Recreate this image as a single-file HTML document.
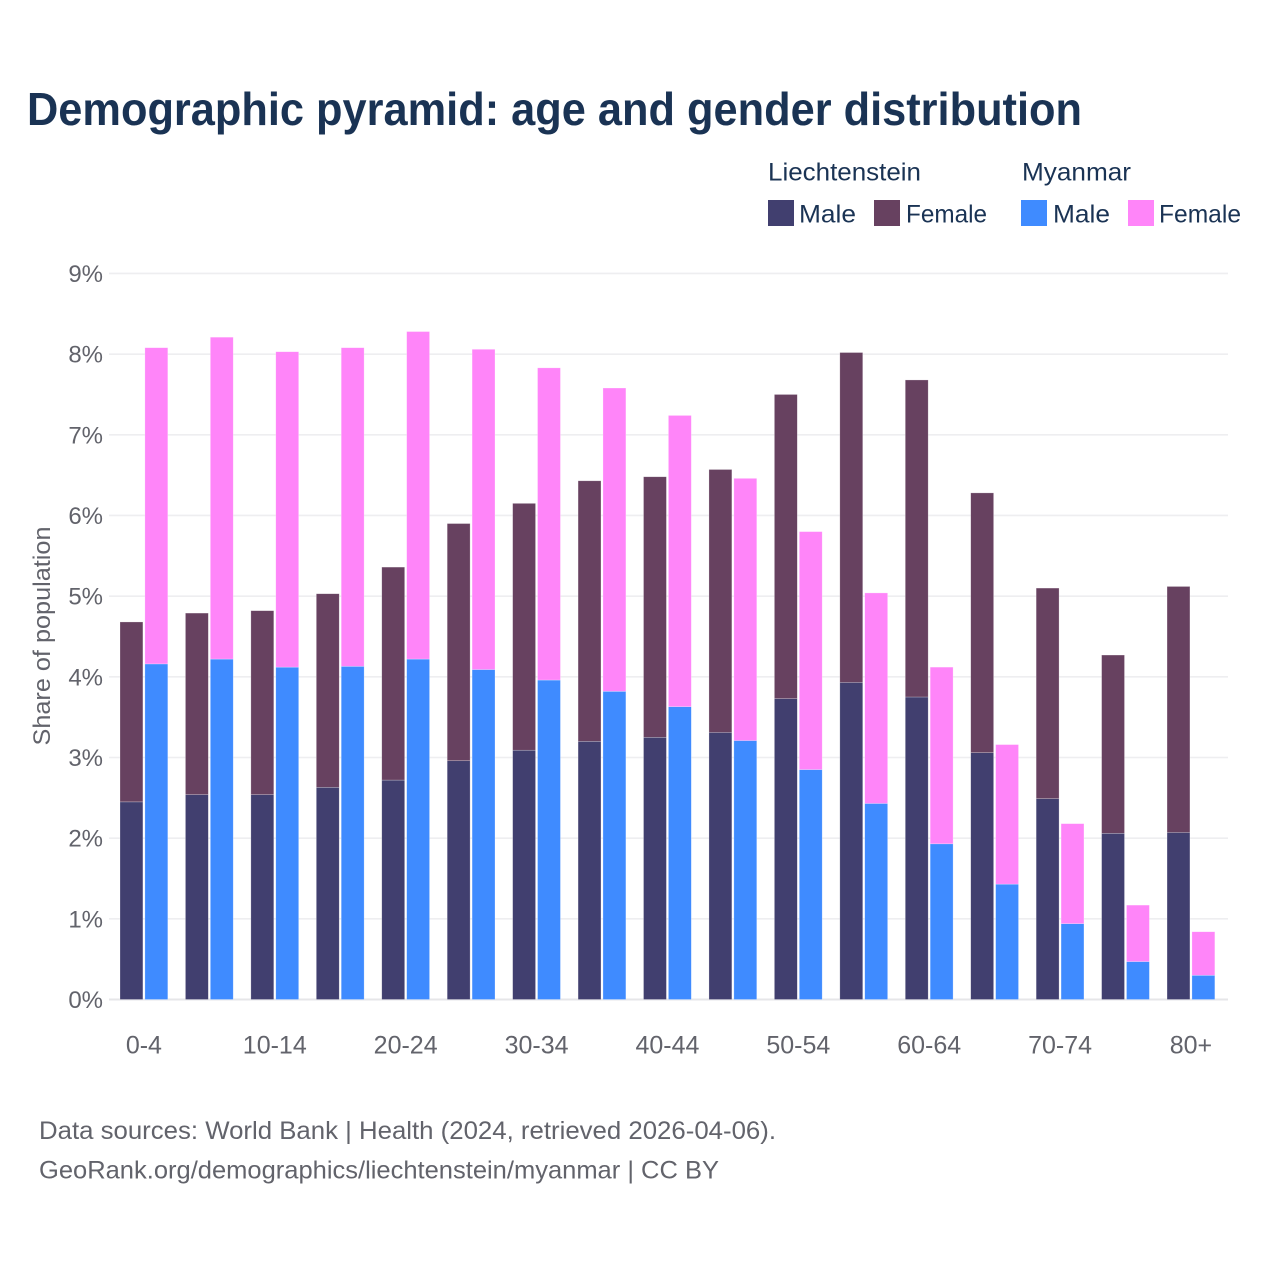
<!DOCTYPE html>
<html>
<head>
<meta charset="utf-8">
<title>Demographic pyramid</title>
<style>
html,body{margin:0;padding:0;background:#fff;}
svg{display:block;font-family:"Liberation Sans",sans-serif;}
</style>
</head>
<body>
<svg id="chart" width="1280" height="1280" viewBox="0 0 1280 1280">
  <rect x="0" y="0" width="1280" height="1280" fill="#ffffff"/>
  <text x="27" y="125" font-size="46" font-weight="700" fill="#1a3354" textLength="1055" lengthAdjust="spacingAndGlyphs">Demographic pyramid: age and gender distribution</text>

  <g>
    <text x="768" y="180.5" font-size="25" fill="#1a3354" textLength="153" lengthAdjust="spacingAndGlyphs">Liechtenstein</text>
    <text x="1022" y="180.5" font-size="25" fill="#1a3354" textLength="109" lengthAdjust="spacingAndGlyphs">Myanmar</text>
    <rect x="768" y="200" width="26" height="26" fill="#413f6f"/>
    <text x="799" y="222.5" font-size="25" fill="#1a3354" textLength="57" lengthAdjust="spacingAndGlyphs">Male</text>
    <rect x="874" y="200" width="26" height="26" fill="#674160"/>
    <text x="906" y="222.5" font-size="25" fill="#1a3354" textLength="81" lengthAdjust="spacingAndGlyphs">Female</text>
    <rect x="1021" y="200" width="26" height="26" fill="#3f8bff"/>
    <text x="1053" y="222.5" font-size="25" fill="#1a3354" textLength="57" lengthAdjust="spacingAndGlyphs">Male</text>
    <rect x="1128" y="200" width="26" height="26" fill="#ff85f9"/>
    <text x="1159" y="222.5" font-size="25" fill="#1a3354" textLength="82" lengthAdjust="spacingAndGlyphs">Female</text>
  </g>

  <g id="grid"></g>
  <g id="yticks"></g>
  <g id="bars"></g>
  <g id="xticks"></g>

  <text transform="translate(50,636) rotate(-90)" text-anchor="middle" font-size="24" fill="#62636b" textLength="219" lengthAdjust="spacingAndGlyphs">Share of population</text>

  <text x="39" y="1139" font-size="25" fill="#62636b" textLength="737" lengthAdjust="spacingAndGlyphs">Data sources: World Bank | Health (2024, retrieved 2026-04-06).</text>
  <text x="39" y="1178.5" font-size="25" fill="#62636b" textLength="680" lengthAdjust="spacingAndGlyphs">GeoRank.org/demographics/liechtenstein/myanmar | CC BY</text>
</svg>
<script>
var categories = ["0-4","5-9","10-14","15-19","20-24","25-29","30-34","35-39","40-44","45-49","50-54","55-59","60-64","65-69","70-74","75-79","80+"];
var xTickLabels = ["0-4","10-14","20-24","30-34","40-44","50-54","60-64","70-74","80+"];
var yTicks = [0,1,2,3,4,5,6,7,8,9];
var liechtensteinMale = [2.45,2.54,2.54,2.63,2.72,2.96,3.09,3.20,3.25,3.31,3.73,3.93,3.75,3.06,2.49,2.06,2.07];
var liechtensteinFemale = [2.23,2.25,2.28,2.40,2.64,2.94,3.06,3.23,3.23,3.26,3.77,4.09,3.93,3.22,2.61,2.21,3.05];
var myanmarMale = [4.16,4.22,4.12,4.13,4.22,4.09,3.96,3.82,3.63,3.21,2.85,2.43,1.93,1.43,0.94,0.47,0.30];
var myanmarFemale = [3.92,3.99,3.91,3.95,4.06,3.97,3.87,3.76,3.61,3.25,2.95,2.61,2.19,1.73,1.24,0.70,0.54];

var NS = "http://www.w3.org/2000/svg";
function yScale(v) { return 999.5 - v * 80.67; }
function xScale(i) { return 143.9 + i * 65.44; }
var BAR_W = 22.9;
var BAR_GAP = 2.0;

function make(tag, attrs, parent, txt) {
  var el = document.createElementNS(NS, tag);
  for (var k in attrs) { el.setAttribute(k, attrs[k]); }
  if (txt !== undefined) { el.textContent = txt; }
  parent.appendChild(el);
  return el;
}

var gridG = document.getElementById("grid");
var yG = document.getElementById("yticks");
var xG = document.getElementById("xticks");
var barsG = document.getElementById("bars");

yTicks.forEach(function (t) {
  var line = make("line", {x1: 109, x2: 1228, y1: yScale(t), y2: yScale(t), stroke: t === 0 ? "#e6e6e8" : "#eeeef0", "stroke-width": t === 0 ? 2 : 1.6}, gridG);
  
  
  var label = make("text", {x: 103, y: yScale(t) + 8.5, "text-anchor": "end", "font-size": 24, fill: "#62636b"}, yG, t + "%");
  
  
});

xTickLabels.forEach(function (lab) {
  var i = categories.indexOf(lab);
  var label = make("text", {x: xScale(i), y: 1053.5, "text-anchor": "middle", "font-size": 25, fill: "#62636b"}, xG, lab);
  
  
});

function drawSegment(x, base, value, fill) {
  var top = yScale(base + value);
  var bar = make("rect", {x: x, y: top, width: BAR_W, height: yScale(base) - top, fill: fill, stroke: "#ffffff", "stroke-opacity": 0.4, "stroke-width": 0.6}, barsG);
  
  
}

categories.forEach(function (c, i) {
  var cx = xScale(i);
  var leftX = cx - BAR_GAP / 2 - BAR_W;
  var rightX = cx + BAR_GAP / 2;
  drawSegment(leftX, 0, liechtensteinMale[i], "#413f6f");
  drawSegment(leftX, liechtensteinMale[i], liechtensteinFemale[i], "#674160");
  drawSegment(rightX, 0, myanmarMale[i], "#3f8bff");
  drawSegment(rightX, myanmarMale[i], myanmarFemale[i], "#ff85f9");
});
</script>
</body>
</html>
